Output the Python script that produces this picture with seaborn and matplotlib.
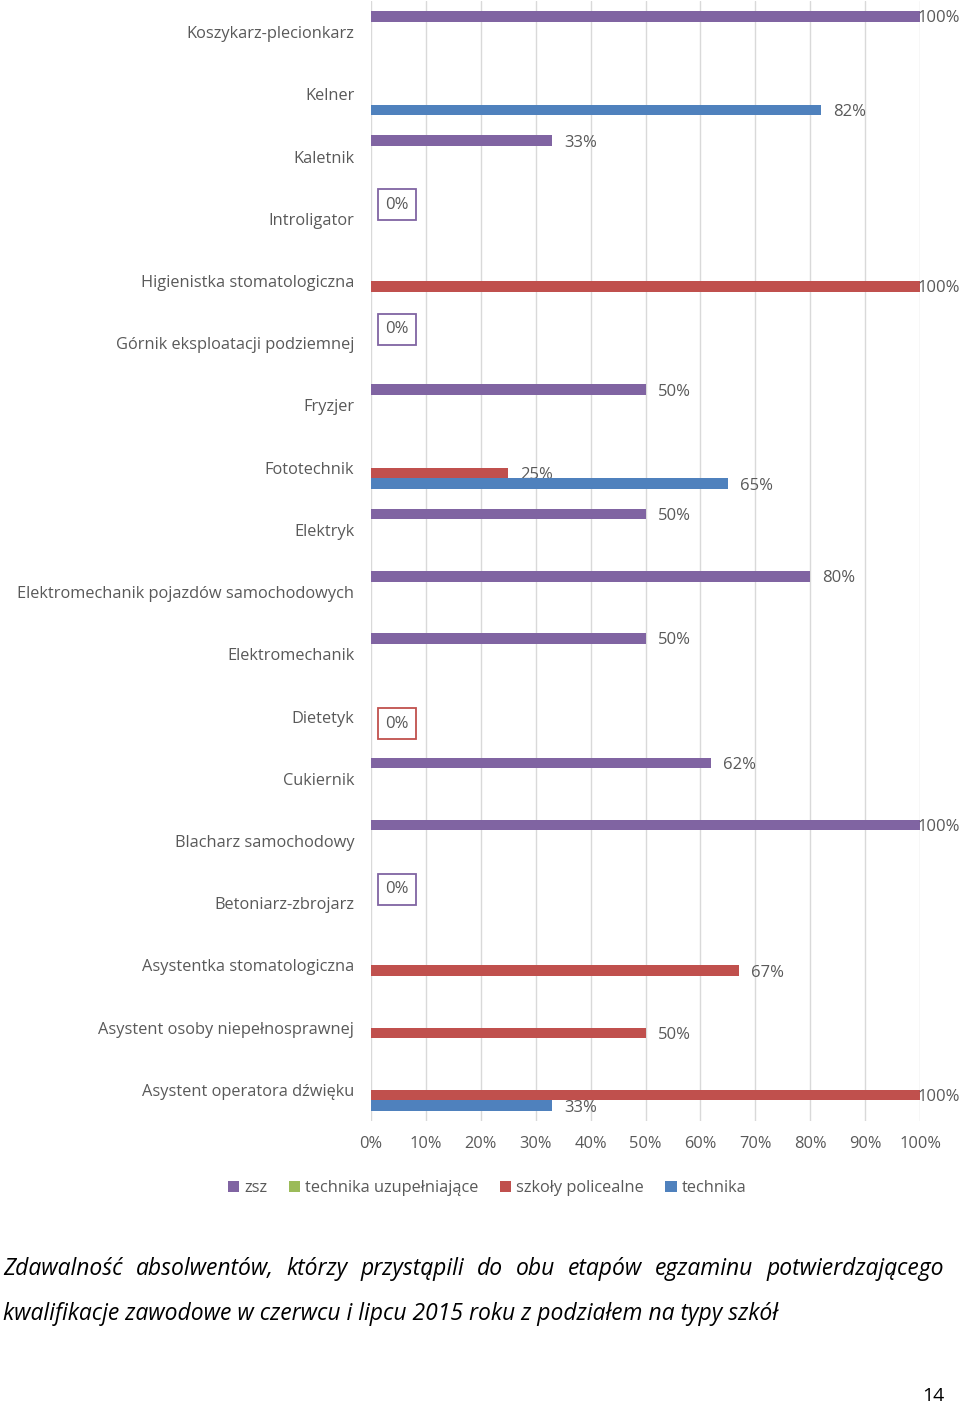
import numpy as np
import pandas as pd
import matplotlib.pyplot as plt
from matplotlib.patches import Patch
import seaborn as sns

# categories listed top to bottom, as in the chart
categories = ['Koszykarz-plecionkarz', 'Kelner', 'Kaletnik', 'Introligator',
              'Higienistka stomatologiczna', 'Górnik eksploatacji podziemnej',
              'Fryzjer', 'Fototechnik', 'Elektryk',
              'Elektromechanik pojazdów samochodowych', 'Elektromechanik',
              'Dietetyk', 'Cukiernik', 'Blacharz samochodowy', 'Betoniarz-zbrojarz',
              'Asystentka stomatologiczna', 'Asystent osoby niepełnosprawnej',
              'Asystent operatora dźwięku']

nan = np.nan
zsz = [100, nan, 33, 0, nan, 0, 50, nan, 50, 80, 50, nan, 62, 100, 0, nan, nan, nan]
technika_uzup = [nan] * 18
policealne = [nan, nan, nan, nan, 100, nan, nan, 25, nan, nan, nan, 0, nan, nan, nan, 67, 50, 100]
technika = [nan, 82, nan, nan, nan, nan, nan, 65, nan, nan, nan, nan, nan, nan, nan, nan, nan, 33]

series = ['zsz', 'technika uzupełniające', 'szkoły policealne', 'technika']
colors = ['#8064A2', '#9BBB59', '#C0504D', '#4F81BD']

df = pd.DataFrame({'zawod': categories, 'zsz': zsz,
                   'technika uzupełniające': technika_uzup,
                   'szkoły policealne': policealne, 'technika': technika})
long = df.melt(id_vars='zawod', var_name='typ', value_name='zdawalnosc').dropna()

sns.set_style('white')
plt.rcParams['font.family'] = ['Open Sans', 'DejaVu Sans']
grey = '#595959'

fig = plt.figure(figsize=(9.6, 14.06), dpi=100)
ax = fig.add_axes([371 / 960, 1 - 1121 / 1406, 549 / 960, 1120 / 1406])

sns.barplot(data=long, x='zdawalnosc', y='zawod', hue='typ', order=categories,
            hue_order=series, palette=colors, saturation=1, orient='h',
            width=0.68, gap=0, linewidth=0, errorbar=None, legend=False,
            ax=ax, zorder=2)

ax.set_xlim(0, 100)
ax.set_xticks(np.arange(0, 101, 10))
ax.set_xticklabels([f'{t}%' for t in range(0, 101, 10)])
ax.xaxis.grid(True, color='#D9D9D9', linewidth=1, zorder=0)
ax.set_axisbelow(True)
for s in ax.spines.values():
    s.set_visible(False)
ax.tick_params(axis='both', length=0, colors=grey, labelsize=11.8)
ax.tick_params(axis='y', pad=12)
ax.tick_params(axis='x', pad=11)
ax.set_xlabel('')
ax.set_ylabel('')

# value labels
lab_kw = dict(va='center_baseline', ha='left', color=grey, fontsize=12)
for cont in ax.containers:
    for bar in cont:
        v = bar.get_width()
        if np.isnan(v):
            continue
        yc = bar.get_y() + bar.get_height() / 2
        if v == 0:
            ax.text(2.6, yc, '0%', zorder=4, **lab_kw,
                    bbox=dict(boxstyle='square,pad=0.45', fc='white',
                              ec=bar.get_facecolor(), lw=1.3))
        elif v >= 99:
            ax.text(99.5, yc, f'{v:.0f}%', zorder=2.5, clip_on=False, **lab_kw)
        else:
            ax.text(v + 2.2, yc, f'{v:.0f}%', zorder=2.5, **lab_kw)

# technika bars drawn over labels of neighbouring bars
for bar in ax.containers[-1]:
    bar.set_zorder(3)

handles = [Patch(facecolor=c, edgecolor='none') for c in colors]
fig.legend(handles, series, loc='center', bbox_to_anchor=(487 / 960, 1 - 1188 / 1406),
           ncol=4, frameon=False, handlelength=0.7, handleheight=0.7,
           handletextpad=0.3, columnspacing=1.3, fontsize=11.8, labelcolor=grey)

# caption, first line justified
line1 = 'Zdawalność absolwentów, którzy przystąpili do obu etapów egzaminu potwierdzającego'
line2 = 'kwalifikacje zawodowe w czerwcu i lipcu 2015 roku z podziałem na typy szkół'
cap_kw = dict(fontsize=16.5, style='italic', color='black', va='center', ha='left')
fig.canvas.draw()
renderer = fig.canvas.get_renderer()
words = line1.split()
texts = [fig.text(0, 1 - 1269 / 1406, w, **cap_kw) for w in words]
widths = [t.get_window_extent(renderer).width for t in texts]
x0, x1 = 3, 944
gapw = (x1 - x0 - sum(widths)) / (len(words) - 1)
x = x0
for t, w in zip(texts, widths):
    t.set_x(x / 960)
    x += w + gapw
fig.text(3 / 960, 1 - 1314 / 1406, line2, **cap_kw)
fig.text(944 / 960, 1 - 1396 / 1406, '14', fontsize=14, color='black',
         ha='right', va='center')

fig.savefig('out.png', dpi=100)
